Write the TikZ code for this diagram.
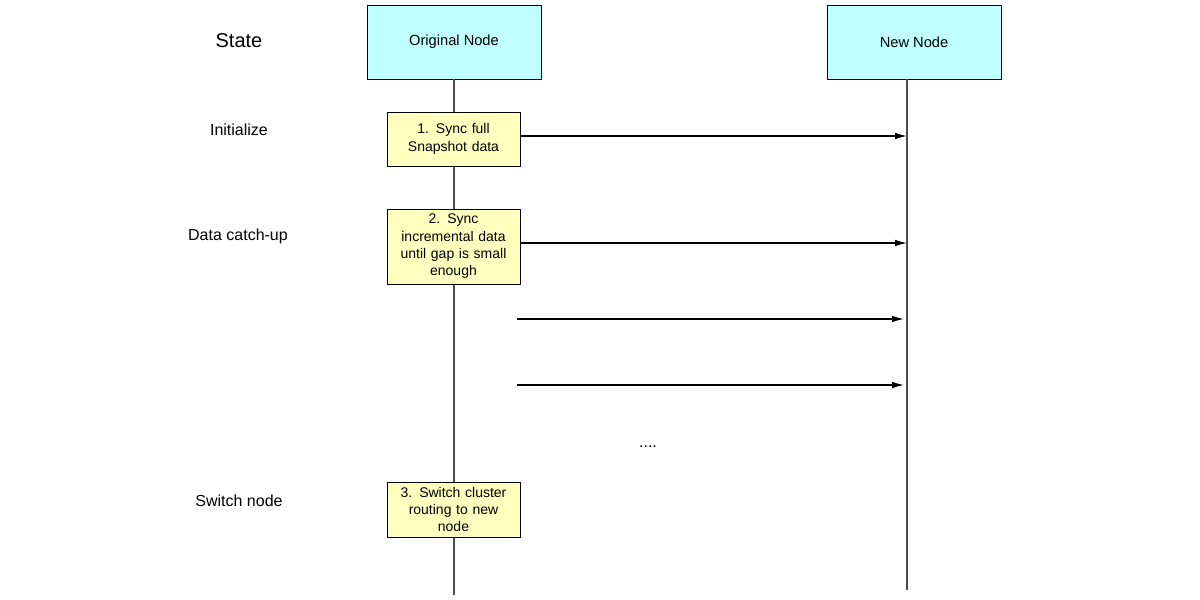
\documentclass[tikz,border=0pt]{standalone}
\usepackage{fontspec}
\setmainfont{Liberation Sans}
\usetikzlibrary{arrows.meta}
\definecolor{cyanbox}{HTML}{C0FFFF}
\definecolor{yellowbox}{HTML}{FFFFC0}
\begin{document}
\begin{tikzpicture}[x=0.75pt,y=-0.75pt,
  head/.style={draw=black,fill=cyanbox,minimum width=130.5pt,minimum height=55.5pt,inner sep=0pt,font=\fontsize{11}{13}\selectfont},
  note/.style={draw=black,fill=yellowbox,minimum width=99.75pt,inner sep=1pt,align=center,text width=96pt,font=\fontsize{10.5}{13}\selectfont},
  life/.style={draw=black!70,line width=0.8pt},
  msg/.style={draw=black,line width=1pt,-{Latex[length=9pt,width=5pt]}},
  lbl/.style={font=\fontsize{12}{14}\selectfont}]
\useasboundingbox (0,0) rectangle (1200,600);
\node[head] (orig) at (454,42) {Original Node};
\node[head] (new) at (914,42) {New Node};
\coordinate (oe) at (454,595);
\coordinate (ne) at (907,590);
\coordinate (ns) at (907,79);
\draw[life] (orig.south) -- (oe);
\draw[life] (ns) -- (ne);
\node[note,minimum height=40.5pt] (n1) at (453.5,139) {1. Sync full\\Snapshot data};
\node[note,minimum height=56.25pt] (n2) at (453.5,246.5) {2. Sync\\incremental data\\until gap is small\\enough};
\node[note,minimum height=41.25pt] (n3) at (453.5,509.5) {3. Switch cluster\\routing to new\\node};
\coordinate (a1) at (907,136);
\coordinate (a2) at (907,243);
\coordinate (s3) at (517,319);
\coordinate (a3) at (904,319);
\coordinate (s4) at (517,385);
\coordinate (a4) at (904,385);
\draw[msg] (n1.east |- a1) -- (a1);
\draw[msg] (n2.east |- a2) -- (a2);
\draw[msg] (s3) -- (a3);
\draw[msg] (s4) -- (a4);
\node[lbl,font=\fontsize{15}{18}\selectfont] (st) at (239,41) {State};
\node[lbl] (l1) at (239,130) {Initialize};
\node[lbl] (l2) at (238,236) {Data catch-up};
\node[lbl] (l3) at (239,501) {Switch node};
\node[lbl] (dots) at (648,447) {....};
\end{tikzpicture}
\end{document}
